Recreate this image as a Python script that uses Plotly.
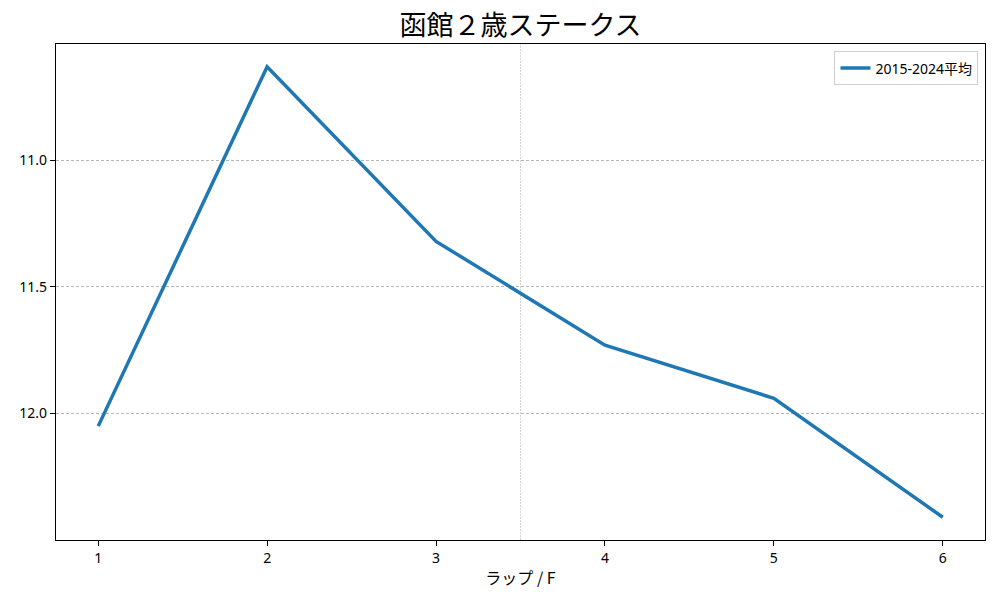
import plotly.graph_objects as go

# Lap times (seconds per furlong), averaged 2015-2024
laps = [1, 2, 3, 4, 5, 6]
avg_times = [12.05, 10.63, 11.32, 11.73, 11.94, 12.41]

font_jp = 'Noto Sans CJK JP, Noto Sans, sans-serif'
font_num = 'Noto Sans, Noto Sans CJK JP, sans-serif'

fig = go.Figure()

fig.add_trace(go.Scatter(
    x=laps,
    y=avg_times,
    mode='lines',
    name='2015-2024平均',
    line=dict(color='#1f77b4', width=3.5),
))

# vertical dotted guide between 3F and 4F
fig.add_shape(type='line', xref='x', yref='paper', x0=3.5, x1=3.5, y0=0, y1=1,
              line=dict(color='#c8c8c8', width=0.8, dash='2px,1px'), layer='below')

fig.update_layout(
    width=1000, height=600,
    paper_bgcolor='white', plot_bgcolor='white',
    margin=dict(l=56, r=15, t=44, b=60, autoexpand=False),
    font=dict(family=font_num, size=14, color='black'),
    title=dict(text='函館２歳ステークス', x=0.5, xref='paper', xanchor='center',
               y=0.957, yanchor='middle', font=dict(size=27, family=font_jp)),
    showlegend=True,
    legend=dict(x=0.993, y=0.985, xanchor='right', yanchor='top',
                bgcolor='rgba(255,255,255,0.8)', bordercolor='#d0d0d0', borderwidth=1,
                font=dict(size=14)),
    xaxis=dict(
        range=[0.75, 6.25],
        tickvals=laps,
        showgrid=False, zeroline=False, automargin=False,
        showline=True, linecolor='black', linewidth=1.2, mirror=True,
        ticks='outside', ticklen=5, tickcolor='black',
        title=dict(text='ラップ / F', font=dict(size=16, family=font_jp), standoff=6),
    ),
    yaxis=dict(
        range=[12.5, 10.54],
        tickvals=[11.0, 11.5, 12.0],
        ticktext=['11.0', '11.5', '12.0'],
        showgrid=True, gridcolor='#b8b8b8', gridwidth=0.6, griddash='3px,2px',
        zeroline=False, automargin=False,
        showline=True, linecolor='black', linewidth=1.2, mirror=True,
        ticks='outside', ticklen=5, tickcolor='black',
    ),
)

# drop the browser's default page margin so the figure sits at the corner
fig.write_html("out.html", config={'displayModeBar': False},
               post_script="document.body.style.margin='0';")
